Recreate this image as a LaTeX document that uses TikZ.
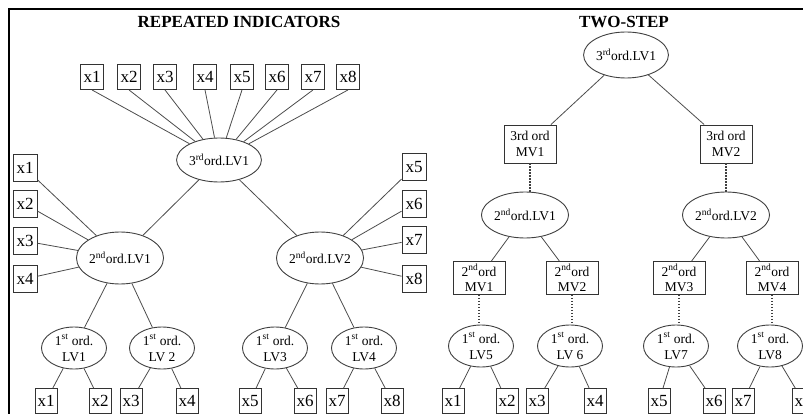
\documentclass[tikz,border=0pt]{standalone}
\usepackage{fontspec}
\setmainfont{Liberation Serif}
\usetikzlibrary{shapes.geometric}
\newcommand{\sups}[1]{\textsuperscript{#1}}
\begin{document}
\begin{tikzpicture}[x=1pt,y=-1pt,
  lvbig/.style={ellipse,draw=black!75,line width=0.9pt,inner sep=0pt,
    minimum width=64pt,minimum height=46pt,font=\fontsize{13.5}{16}\selectfont,align=center},
  lvsmall/.style={lvbig,minimum width=65pt,minimum height=42pt},
  ind/.style={rectangle,draw=black!80,line width=0.9pt,inner sep=0pt,
    minimum width=23pt,minimum height=25pt,font=\fontsize{17}{20}\selectfont},
  mv/.style={rectangle,draw=black!80,line width=0.9pt,inner sep=0pt,
    minimum width=52pt,minimum height=35pt,font=\fontsize{13.5}{15.5}\selectfont,align=center},
  link/.style={draw=black!70,line width=0.8pt},
  dotlink/.style={draw=black!75,line width=1.2pt,dash pattern=on 1.4pt off 1.6pt},
  title/.style={font=\fontsize{17}{20}\selectfont\bfseries,anchor=base}]

\useasboundingbox (0,0) rectangle (803,414);
\clip (0,0) rectangle (803,414);

% outer frame
\draw[line width=1.4pt] (9,414) -- (9,9) -- (803,9);

% ---------------- repeated indicators ----------------
\node[title] (tA) at (239,28) {REPEATED INDICATORS};

\foreach \i/\x in {1/92,2/129,3/165,4/205,5/242,6/277,7/313,8/348}
  \node[ind] (t\i) at (\x,77) {x\i};

\node[lvbig,minimum height=44pt] (A3) at (219,160) {3\sups{rd}ord.LV1};
\node[lvbig,minimum height=52pt] (A21) at (120,258) {2\sups{nd}ord.LV1};
\node[lvbig,minimum height=52pt] (A22) at (320,258) {2\sups{nd}ord.LV2};

\node[ind,minimum width=24pt,minimum height=27pt] (l1) at (25,168) {x1};
\node[ind,minimum width=24pt,minimum height=27pt] (l2) at (25,204) {x2};
\node[ind,minimum width=24pt,minimum height=27pt] (l3) at (25,241) {x3};
\node[ind,minimum width=24pt,minimum height=27pt] (l4) at (25,279) {x4};
\node[ind,minimum width=24pt,minimum height=27pt] (r5) at (414,167) {x5};
\node[ind,minimum width=24pt,minimum height=27pt] (r6) at (414,204) {x6};
\node[ind,minimum width=24pt,minimum height=27pt] (r7) at (414,240) {x7};
\node[ind,minimum width=24pt,minimum height=27pt] (r8) at (414,279) {x8};

\node[lvsmall] (A11) at (74,348) {1\sups{st} ord.\\LV1};
\node[lvsmall] (A12) at (162,348) {1\sups{st} ord.\\LV 2};
\node[lvsmall] (A13) at (275,348) {1\sups{st} ord.\\LV3};
\node[lvsmall] (A14) at (364,348) {1\sups{st} ord.\\LV4};

\foreach \i/\x in {1/46,2/100,3/131,4/187,5/250,6/305,7/337,8/392}
  \node[ind,minimum width=22pt] (b\i) at (\x,401) {x\i};

\foreach \i in {1,...,8} \draw[link] (t\i.south) -- (A3);
\foreach \i in {1,...,4} \draw[link] (l\i) -- (A21);
\foreach \i in {5,...,8} \draw[link] (r\i) -- (A22);
\draw[link] (A3) -- (A21);
\draw[link] (A3) -- (A22);
\draw[link] (A21) -- (A11);
\draw[link] (A21) -- (A12);
\draw[link] (A22) -- (A13);
\draw[link] (A22) -- (A14);
\draw[link] (A11) -- (b1);
\draw[link] (A11) -- (b2);
\draw[link] (A12) -- (b3);
\draw[link] (A12) -- (b4);
\draw[link] (A13) -- (b5);
\draw[link] (A13) -- (b6);
\draw[link] (A14) -- (b7);
\draw[link] (A14) -- (b8);

% ---------------- two-step ----------------
\node[title] (tB) at (624,28) {TWO-STEP};

\node[lvbig,minimum width=63pt] (B3) at (626,55) {3\sups{rd}ord.LV1};
\node[mv,minimum height=38pt] (M31) at (530,144) {3rd ord\\MV1};
\node[mv,minimum height=38pt] (M32) at (726,144) {3rd ord\\MV2};

\node[lvbig] (B21) at (525,215) {2\sups{nd}ord.LV1};
\node[lvbig] (B22) at (726,215) {2\sups{nd}ord.LV2};

\node[mv,minimum height=33pt] (M21) at (479,278) {2\sups{nd}ord\\MV1};
\node[mv,minimum height=33pt] (M22) at (572,278) {2\sups{nd}ord\\MV2};
\node[mv,minimum height=33pt] (M23) at (679,278) {2\sups{nd}ord\\MV3};
\node[mv,minimum height=33pt] (M24) at (772,278) {2\sups{nd}ord\\MV4};

\node[lvsmall] (B15) at (481,346) {1\sups{st} ord.\\LV5};
\node[lvsmall] (B16) at (570,346) {1\sups{st} ord.\\LV 6};
\node[lvsmall] (B17) at (676,346) {1\sups{st} ord.\\LV7};
\node[lvsmall] (B18) at (770,346) {1\sups{st} ord.\\LV8};

\foreach \i/\x in {1/453,2/507,3/537,4/595,5/659,6/714,7/743,8/803}
  \node[ind,minimum width=22pt] (c\i) at (\x,401) {x\i};

\draw[link] (B3) -- (M31);
\draw[link] (B3) -- (M32);
\draw[dotlink] (M31.south) -- (M31.south |- B21.north);
\draw[dotlink] (M32.south) -- (M32.south |- B22.north);
\draw[link] (B21) -- (M21);
\draw[link] (B21) -- (M22);
\draw[link] (B22) -- (M23);
\draw[link] (B22) -- (M24);
\draw[dotlink] (M21.south) -- (M21.south |- B15.north);
\draw[dotlink] (M22.south) -- (M22.south |- B16.north);
\draw[dotlink] (M23.south) -- (M23.south |- B17.north);
\draw[dotlink] (M24.south) -- (M24.south |- B18.north);
\draw[link] (B15) -- (c1);
\draw[link] (B15) -- (c2);
\draw[link] (B16) -- (c3);
\draw[link] (B16) -- (c4);
\draw[link] (B17) -- (c5);
\draw[link] (B17) -- (c6);
\draw[link] (B18) -- (c7);
\draw[link] (B18) -- (c8);
\end{tikzpicture}
\end{document}
